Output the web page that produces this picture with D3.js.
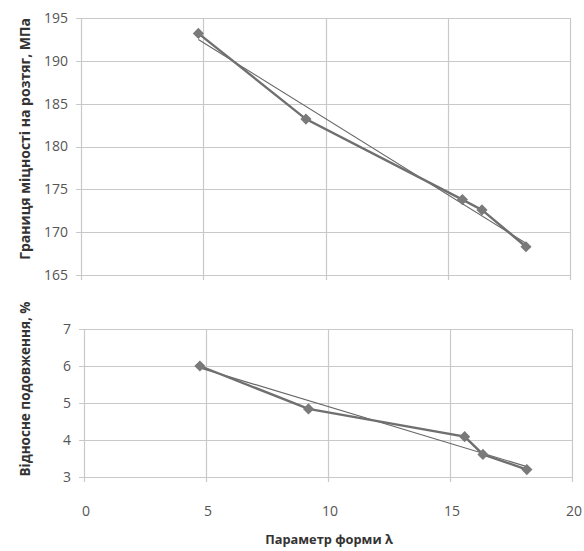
<!DOCTYPE html>
<html><head><meta charset="utf-8">
<script src="https://cdn.jsdelivr.net/npm/d3@7"></script>
<style>body{margin:0;background:#fff}svg{display:block}</style>
</head><body><svg id="c" width="584" height="551"></svg>
<script>
const lambda = [4.8, 9.2, 15.6, 16.4, 18.2];
const strength = [193.2, 183.2, 173.8, 172.6, 168.3];
const strengthTrendX = [4.8, 18.2];
const strengthTrendY = [192.5, 168.7];
const elongLambda = [4.75, 9.2, 15.6, 16.35, 18.15];
const elongation = [6.0, 4.84, 4.09, 3.61, 3.2];
const elongTrendX = [4.75, 18.15];
const elongTrendY = [5.95, 3.28];
const xTicks = [0, 5, 10, 15, 20];
const strengthTicks = [165, 170, 175, 180, 185, 190, 195];
const elongTicks = [3, 4, 5, 6, 7];
const xTitle = "Параметр форми λ";
const yTitleTop = "Границя міцності на розтяг, МПа";
const yTitleBottom = "Відносне подовження, %";

const svg = d3.select("#c");
const font = "'Open Sans', sans-serif";
const grid = "#c9c9c9", lineC = "#6f6f6f", tickC = "#555";

function panel(cfg){
  const x = d3.scaleLinear().domain([0,20]).range(cfg.xr);
  const y = d3.scaleLinear().domain(cfg.yd).range(cfg.yr);
  const g = svg.append("g");
  g.append("g").selectAll("line").data(cfg.yTicks).join("line")
    .attr("x1", cfg.xr[0]-5).attr("x2", cfg.xr[1])
    .attr("y1", d=>Math.round(y(d))+0.5).attr("y2", d=>Math.round(y(d))+0.5)
    .attr("stroke", grid).attr("stroke-width", 1.2);
  g.append("g").selectAll("line").data(xTicks).join("line")
    .attr("x1", d=>Math.round(x(d))+0.5).attr("x2", d=>Math.round(x(d))+0.5)
    .attr("y1", cfg.yr[1]).attr("y2", cfg.yr[0]+5)
    .attr("stroke", grid).attr("stroke-width", 1.2);
  g.append("g").selectAll("text").data(cfg.yTicks).join("text")
    .attr("x", cfg.xr[0]-13).attr("y", d=>y(d)).attr("dy","0.35em")
    .attr("text-anchor","end").attr("font-family",font).attr("font-size",14)
    .attr("fill",tickC).text(d=>d);
  if(cfg.xLabels){
    g.append("g").selectAll("text").data(xTicks).join("text")
      .attr("x", d=>x(d)+2).attr("y", 516)
      .attr("text-anchor","middle").attr("font-family",font).attr("font-size",14)
      .attr("fill",tickC).text(d=>d);
  }
  g.append("line")
    .attr("x1", x(cfg.tx[0])).attr("y1", y(cfg.ty[0]))
    .attr("x2", x(cfg.tx[1])).attr("y2", y(cfg.ty[1]))
    .attr("stroke", "#666").attr("stroke-width", 1.1);
  const pts = cfg.xs.map((v,i)=>[v, cfg.ys[i]]);
  g.append("path").datum(pts)
    .attr("d", d3.line().x(d=>x(d[0])).y(d=>y(d[1])))
    .attr("fill","none").attr("stroke",lineC).attr("stroke-width",2.4);
  g.append("g").selectAll("path").data(pts).join("path")
    .attr("transform", d=>`translate(${x(d[0])},${y(d[1])}) rotate(45)`)
    .attr("d", d3.symbol(d3.symbolSquare, 62)())
    .attr("fill", "#7a7a7a");
  svg.append("text")
    .attr("transform", `translate(30,${cfg.titleY}) rotate(-90)`)
    .attr("text-anchor","middle").attr("font-family",font).attr("font-size",cfg.titleSize)
    .attr("font-weight","bold").attr("fill","#333").text(cfg.title);
}

panel({xr:[81,570], yd:[165,195], yr:[275,18], yTicks:strengthTicks,
  xs:lambda, ys:strength, tx:strengthTrendX, ty:strengthTrendY,
  title:yTitleTop, titleY:139, titleSize:14, xLabels:false});
panel({xr:[84,572], yd:[3,7], yr:[477,329], yTicks:elongTicks,
  xs:elongLambda, ys:elongation, tx:elongTrendX, ty:elongTrendY,
  title:yTitleBottom, titleY:389, titleSize:13.5, xLabels:true});

svg.append("text").attr("x",329).attr("y",544).attr("text-anchor","middle")
  .attr("font-family",font).attr("font-size",12.8).attr("font-weight","bold")
  .attr("fill","#333").text(xTitle);
</script></body></html>
